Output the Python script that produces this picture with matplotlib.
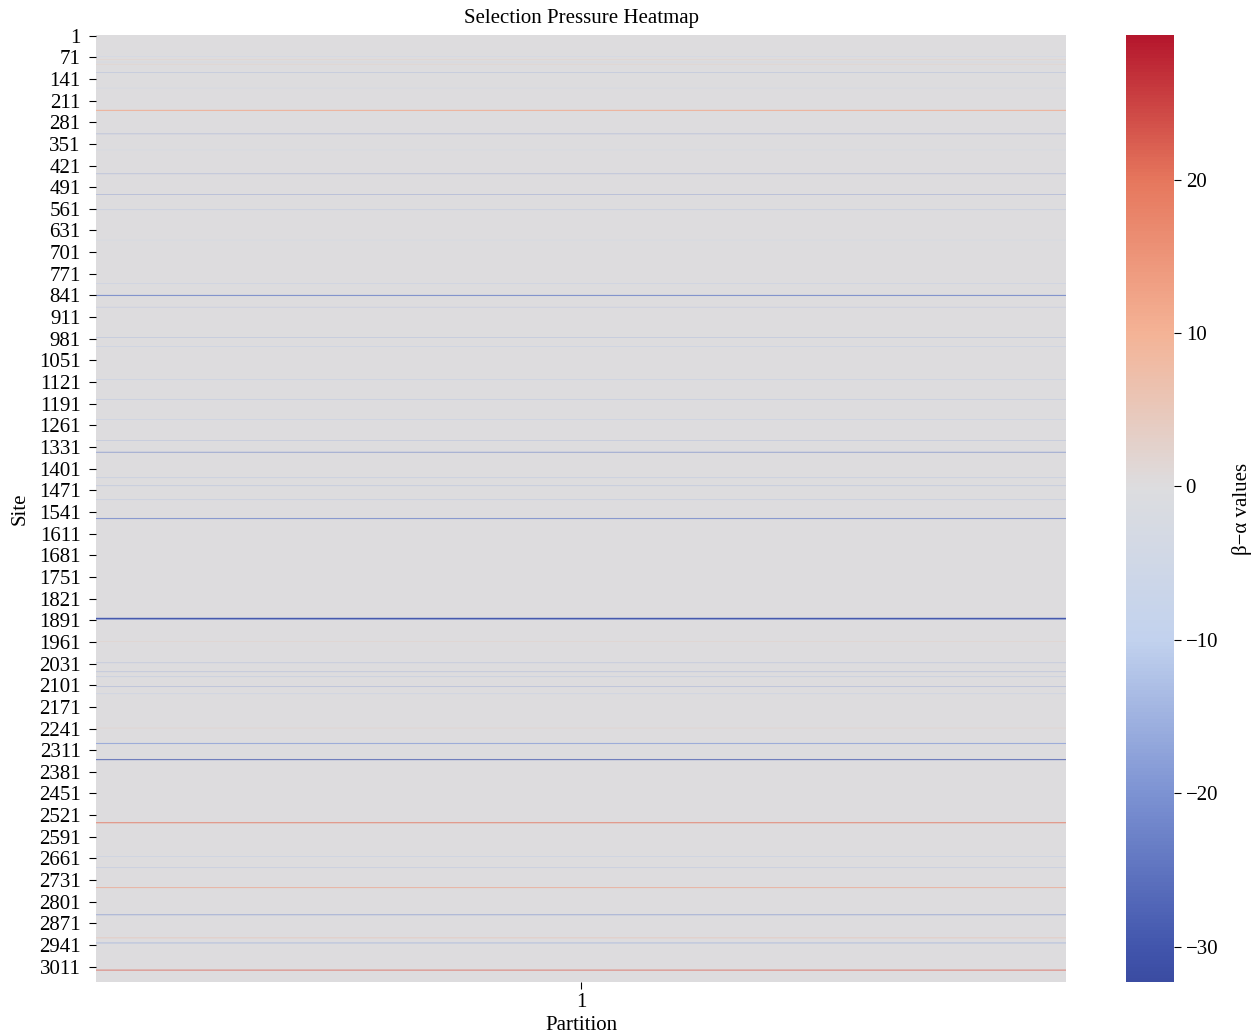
import numpy as np
import matplotlib
matplotlib.use("Agg")
import matplotlib.pyplot as plt
from matplotlib.colors import LinearSegmentedColormap

plt.rcParams['font.family'] = ['Liberation Serif', 'DejaVu Serif']
plt.rcParams['axes.unicode_minus'] = True

# number of sites (rows) and one partition (column)
n_sites = 3060
partitions = ['1']

# sites that stand out from ~0 in the picture, with estimated beta-alpha values
line_sites = [70, 80, 88, 95, 122, 172, 243, 244, 245, 320, 372, 449, 516, 565,
              663, 804, 841, 842, 843, 880, 978, 1007, 1114, 1178, 1243,
              1311, 1348, 1349, 1431, 1457, 1502, 1562, 1563, 1564,
              1884, 1885, 1886, 1887, 1888, 1889, 1960, 2029, 2058, 2074,
              2106, 2129, 2240, 2289, 2290, 2291, 2341, 2342, 2343,
              2545, 2546, 2547, 2655, 2691, 2755, 2756, 2843, 2844,
              2918, 2934, 2935, 3021, 3022, 3023]
line_values = [-8, 5, -8, 5, -16, -8, 10, 14, 10, -20, -8, -20, -22, -14,
               -8, -12, -20, -28, -20, -14, -16, -12, -12, -14, -12,
               -16, -18, -26, -14, -16, -14, -18, -28, -18,
               -22, -30, -32.3, -30, -28, -20, 5, -16, -18, -14,
               -20, -12, 5, -18, -22, -12, -26, -32, -26,
               14, 24, 14, -12, -14, 12, 16, -22, -18,
               12, -18, -14, 12, 29.4, 12]

values = np.zeros((n_sites, len(partitions)))
for s, v in zip(line_sites, line_values):
    values[s - 1, 0] = v

vmin, vmax = values.min(), values.max()

# muted coolwarm, colours
cb_vals = [vmin, -30, -20, -10, 0, 10, 20, vmax]
cb_cols = ['#3b4ca2', '#4256ad', '#7d93d3', '#c2d2ee', '#dddddf',
           '#f4b396', '#e6775d', '#b5172d']
cmap = LinearSegmentedColormap.from_list(
    'muted_coolwarm',
    [((v - vmin) / (vmax - vmin), c) for v, c in zip(cb_vals, cb_cols)])

fig = plt.figure(figsize=(12.55, 10.34), dpi=100)
ax = fig.add_axes([0.0765, 0.0503, 0.7729, 0.9154])
cax = fig.add_axes([0.8972, 0.0503, 0.0382, 0.9154])

im = ax.imshow(values, cmap=cmap, vmin=vmin, vmax=vmax, aspect='auto',
               interpolation='antialiased', interpolation_stage='rgba')

# seaborn-like ticks: every 70th site
yt = np.arange(0, n_sites, 70)
ax.set_yticks(yt)
ax.set_yticklabels([str(i + 1) for i in yt], fontsize=15)
ax.set_xticks(range(len(partitions)))
ax.set_xticklabels(partitions, fontsize=15)
ax.tick_params(axis='y', length=5, pad=6)
ax.tick_params(axis='x', length=5, pad=3)
for sp in ax.spines.values():
    sp.set_visible(False)
ax.set_xlabel('Partition', fontsize=15, labelpad=3)
ax.set_ylabel('Site', fontsize=15, labelpad=7)
ax.set_title('Selection Pressure Heatmap', fontsize=15, pad=9)

cb = fig.colorbar(im, cax=cax)
cb.outline.set_visible(False)
cb.set_ticks([-30, -20, -10, 0, 10, 20])
cb.ax.tick_params(labelsize=15, length=5)
cb.set_label('β−α values', fontsize=15, labelpad=10)

fig.savefig('out.png', dpi=100)
